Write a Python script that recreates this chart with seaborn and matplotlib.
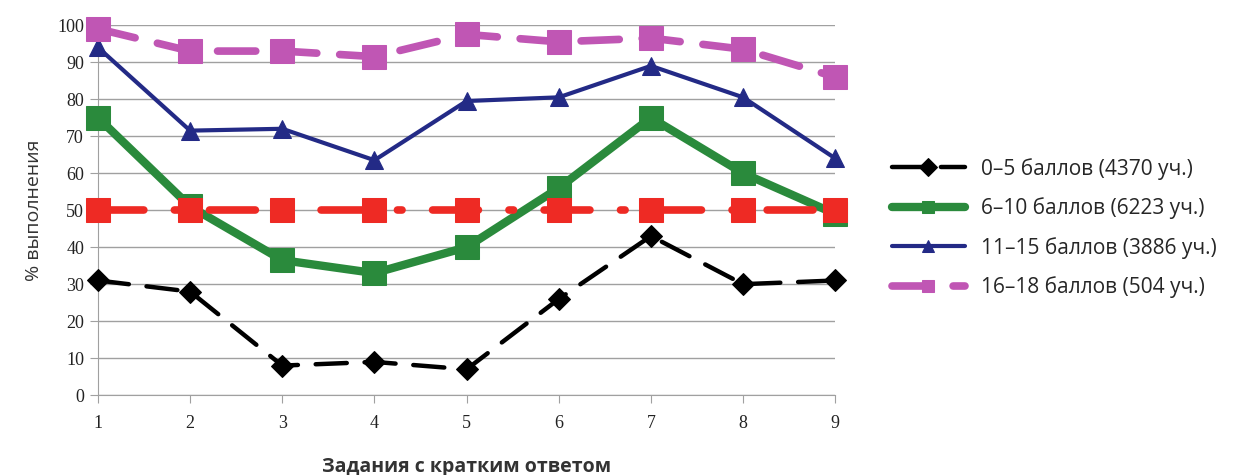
import matplotlib
matplotlib.use("Agg")
import matplotlib.pyplot as plt
import seaborn as sns

# Data
tasks = [1, 2, 3, 4, 5, 6, 7, 8, 9]
group_0_5 = [31, 28, 8, 9, 7, 26, 43, 30, 31]
group_6_10 = [75, 51, 36.5, 33, 40, 56, 75, 60, 49]
group_11_15 = [94, 71.5, 72, 63.5, 79.5, 80.5, 89, 80.5, 64]
group_16_18 = [99, 93, 93, 91.5, 97.5, 95.5, 96.5, 93.5, 86]
threshold = [50, 50, 50, 50, 50, 50, 50, 50, 50]

labels = ["0–5 баллов (4370 уч.)", "6–10 баллов (6223 уч.)",
          "11–15 баллов (3886 уч.)", "16–18 баллов (504 уч.)"]

sns.set_style("white")
plt.rcParams['font.family'] = ['Open Sans', 'DejaVu Sans']

fig = plt.figure(figsize=(12.56, 4.75), dpi=100)
ax = fig.add_axes([0.078, 0.168, 0.587, 0.779])

sns.lineplot(x=tasks, y=group_0_5, ax=ax, color="black", lw=3.2,
             linestyle=(0, (7, 4)), marker="D", markersize=11,
             markeredgecolor="black", label=labels[0], zorder=3)
sns.lineplot(x=tasks, y=group_6_10, ax=ax, color="#2a8a3c", lw=6,
             marker="s", markersize=17, markeredgecolor="#2a8a3c",
             label=labels[1], zorder=4)
sns.lineplot(x=tasks, y=group_11_15, ax=ax, color="#232a86", lw=3,
             marker="^", markersize=13, markeredgecolor="#232a86",
             label=labels[2], zorder=5)
sns.lineplot(x=tasks, y=group_16_18, ax=ax, color="#c056b4", lw=5.5,
             linestyle=(0, (5, 3)), marker="s", markersize=17,
             markeredgecolor="#c056b4", label=labels[3], zorder=6)
# 50% reference line
sns.lineplot(x=tasks, y=threshold, ax=ax, color="#ee2a24", lw=5.5,
             linestyle=(0, (6, 4, 0.6, 4)), marker="s", markersize=17,
             markeredgecolor="#ee2a24", legend=False, zorder=7)
for line in ax.lines:
    line.set_dash_capstyle("round")
    line.set_clip_on(False)

ax.set_xlim(1, 9)
ax.set_ylim(0, 100)
ax.set_xticks(tasks)
ax.set_yticks(range(0, 101, 10))
ax.grid(axis="y", color="#a0a0a0", lw=1)
ax.set_axisbelow(True)
for side in ["top", "right"]:
    ax.spines[side].set_visible(False)
ax.spines["left"].set_color("#a0a0a0")
ax.spines["bottom"].set_color("#a0a0a0")
ax.tick_params(axis="x", bottom=True, length=6, color="#a0a0a0", pad=8)
ax.tick_params(axis="y", left=True, length=6, color="#a0a0a0", pad=4)
for t in ax.get_xticklabels() + ax.get_yticklabels():
    t.set_family("Liberation Serif")
    t.set_fontsize(13)
    t.set_color("#222222")

ax.set_xlabel("Задания с кратким ответом", fontsize=14, fontweight="bold",
              color="#333333", labelpad=18)
ax.set_ylabel("% выполнения", fontsize=14, color="#333333", labelpad=10)

leg = ax.legend(loc="center left", bbox_to_anchor=(0.695, 0.52),
                bbox_transform=fig.transFigure, frameon=False, fontsize=15,
                handlelength=3.5, labelspacing=0.85)
for h in leg.legend_handles:
    h.set_markersize(9)

fig.savefig("out.png", dpi=100)
